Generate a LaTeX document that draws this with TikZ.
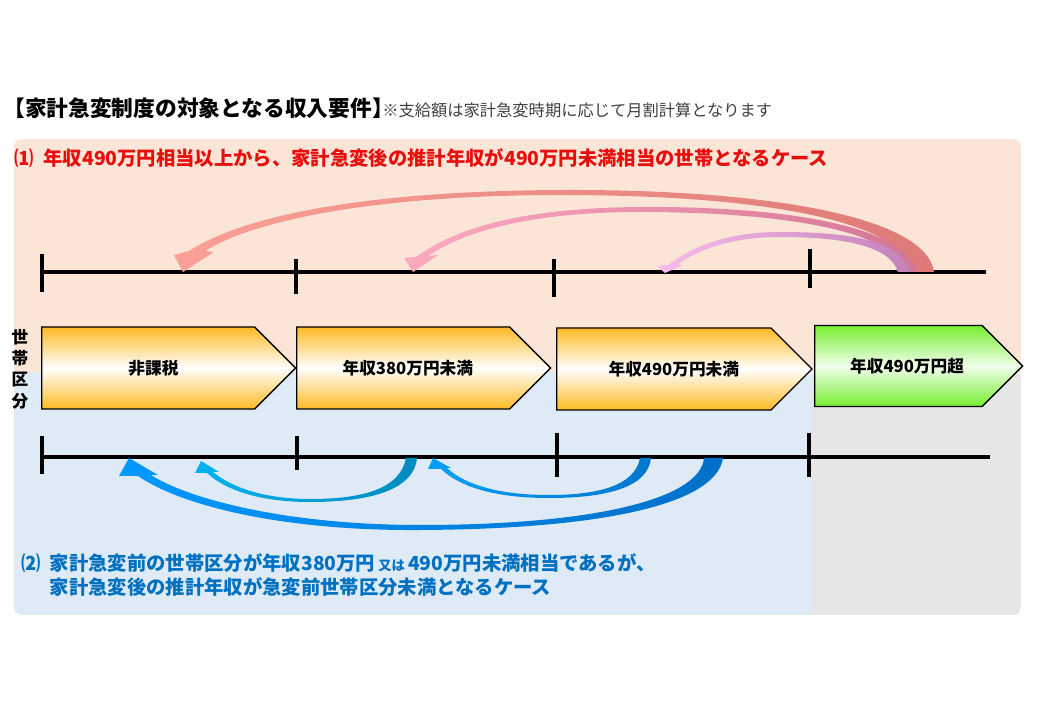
\documentclass[tikz,border=0pt]{standalone}
\usepackage{fontspec}
\setmainfont{Noto Sans CJK JP}
\usetikzlibrary{shapes.symbols}

\definecolor{panelpink}{RGB}{251,229,214}
\definecolor{panelblue}{RGB}{222,235,247}
\definecolor{panelgray}{RGB}{231,230,230}
\definecolor{stageorange}{RGB}{255,186,35}
\definecolor{stagegreen}{RGB}{118,238,48}
\definecolor{greenlight}{RGB}{242,255,236}
\definecolor{casered}{RGB}{232,14,14}
\definecolor{caseblue}{RGB}{0,112,192}
\definecolor{notegray}{RGB}{64,64,64}
% arrow colours
\definecolor{salmonA}{RGB}{250,160,150}
\definecolor{salmonB}{RGB}{222,122,120}
\definecolor{pinkA}{RGB}{250,170,192}
\definecolor{pinkB}{RGB}{212,118,150}
\definecolor{lilacA}{RGB}{248,188,236}
\definecolor{lilacB}{RGB}{196,130,186}
\definecolor{cyanA}{RGB}{0,178,242}
\definecolor{cyanB}{RGB}{0,138,190}
\definecolor{azureA}{RGB}{0,160,252}
\definecolor{azureB}{RGB}{0,118,204}
\definecolor{deepA}{RGB}{0,152,255}
\definecolor{deepB}{RGB}{0,112,200}

\begin{document}
\begin{tikzpicture}[
	x=0.75pt, y=-0.75pt,
	axisline/.style={line width=2.3pt},
	stage/.style={
		signal, signal to=east, signal pointer angle=90,
		draw, line width=1pt, inner sep=2pt, anchor=west,
		minimum width=190.5pt, minimum height=61.5pt,
		font=\fontsize{12.5}{15}\selectfont\bfseries
	},
	orangestage/.style={stage, top color=stageorange, bottom color=stageorange, middle color=white},
	greenstage/.style={stage, top color=stagegreen, bottom color=stagegreen, middle color=greenlight},
	label/.style={inner sep=0pt, anchor=west}
	]
	
	\useasboundingbox (0,0) rectangle (1040,720);
	
	% panels
	\begin{scope}
		\clip[rounded corners=6pt] (14,139) rectangle (1021,615);
		\fill[panelpink] (14,139) rectangle (1021,373);
		\fill[panelblue] (14,372) rectangle (811,615);
		\fill[panelgray] (811,374) rectangle (1021,615);
	\end{scope}
	
	% headings
	\node[label, font=\fontsize{16.3}{19}\selectfont\bfseries] (title) at (3,108) {【家計急変制度の対象となる収入要件】};
	\node[inner sep=0pt, anchor=base west, xshift=-9pt, text=notegray, font=\fontsize{12.2}{14}\selectfont] (note) at (title.base east) {※支給額は家計急変時期に応じて月割計算となります};
	\node[label, text=casered, font=\fontsize{14.5}{17}\selectfont\bfseries] (case1) at (14,158) {⑴\hspace{7.5pt}年収490万円相当以上から、家計急変後の推計年収が490万円未満相当の世帯となるケース};
	\node[inner sep=0pt, anchor=north west, align=left, text=caseblue, font=\fontsize{14.5}{18}\selectfont\bfseries] (case2) at (21,553)
		{⑵\hspace{7pt}家計急変前の世帯区分が年収380万円{\fontsize{10}{12}\selectfont\ 又は\ }490万円未満相当であるが、\\
		\phantom{⑵}\hspace{7pt}家計急変後の推計年収が急変前世帯区分未満となるケース};
	
	% axes
	\coordinate (tl) at (42,272);
	\coordinate (tr) at (986,272);
	\coordinate (bl) at (42,457);
	\coordinate (br) at (990,457);
	\draw[axisline] (tl) -- (tr);
	\draw[axisline] (bl) -- (br);
	\foreach \x/\ya/\yb in {42/254/292, 296/259/294, 554/259/297, 810/249/288}
		\draw[axisline] (\x,\ya) -- (\x,\yb);
	\foreach \x/\ya/\yb in {42/436/474, 297/436/470, 557/433/477, 809/433/477}
		\draw[axisline] (\x,\ya) -- (\x,\yb);
	
	% household classes
	\node[font=\fontsize{12.5}{16}\selectfont\bfseries, align=center, inner sep=0pt] (kubun) at (20,369) {世\\帯\\区\\分};
	\node[orangestage] (s1) at (41,368) {\hspace{8pt}非課税};
	\node[orangestage] (s2) at (296,368) {\hspace{7pt}年収380万円未満};
	\node[orangestage, minimum width=191.5pt] (s3) at (556,369) {\hspace{15pt}年収490万円未満};
	\node[greenstage, minimum width=156pt, minimum height=60.75pt] (s4) at (814,366) {\hspace{13pt}年収490万円超};
	
	% case (1) arrows
	\shade[left color=salmonA, right color=salmonB]
		(934,272) .. controls (926,215) and (760,189) .. (560,190)
		.. controls (380,191) and (250,212) .. (189,251)
		-- (174,255) -- (183,272) -- (214,252) -- (205,251)
		.. controls (260,217) and (390,195) .. (560,195)
		.. controls (780,195) and (905,225) .. (912,272) -- cycle;
	\shade[left color=pinkA, right color=pinkB]
		(917,272) .. controls (906,225) and (780,206) .. (640,207)
		.. controls (530,208) and (460,225) .. (416,257)
		-- (404,258) -- (413,272) -- (438,255) -- (428,256)
		.. controls (470,228) and (540,212) .. (640,212)
		.. controls (770,212) and (895,228) .. (904,272) -- cycle;
	\shade[left color=lilacA, right color=lilacB]
		(910,272) .. controls (900,240) and (850,232) .. (780,232)
		.. controls (730,232) and (695,245) .. (668,265)
		-- (657,266) -- (665,273) -- (683,265) -- (677,265)
		.. controls (700,248) and (735,237) .. (780,237)
		.. controls (840,237) and (890,245) .. (898,272) -- cycle;
	
	% case (2) arrows
	\shade[left color=deepA, right color=deepB]
		(723,458) .. controls (716,505) and (600,529) .. (420,530)
		.. controls (280,531) and (180,505) .. (138,476)
		-- (119,476) -- (129,458) -- (158,475) -- (151,475)
		.. controls (190,500) and (290,525) .. (420,525)
		.. controls (590,525) and (700,500) .. (704,458) -- cycle;
	\shade[left color=cyanA, right color=cyanB]
		(417,458) .. controls (414,490) and (370,502) .. (310,502)
		.. controls (260,502) and (225,490) .. (207,473)
		-- (195,473) -- (201,461) -- (219,472) -- (213,472)
		.. controls (235,490) and (270,499) .. (310,499)
		.. controls (360,499) and (400,490) .. (406,458) -- cycle;
	\shade[left color=azureA, right color=azureB]
		(651,458) .. controls (648,488) and (605,498) .. (549,498)
		.. controls (495,498) and (460,487) .. (441,469)
		-- (428,469) -- (433,458) -- (451,468) -- (447,468)
		.. controls (465,485) and (500,495) .. (549,495)
		.. controls (600,495) and (635,485) .. (640,458) -- cycle;
	
\end{tikzpicture}
\end{document}
